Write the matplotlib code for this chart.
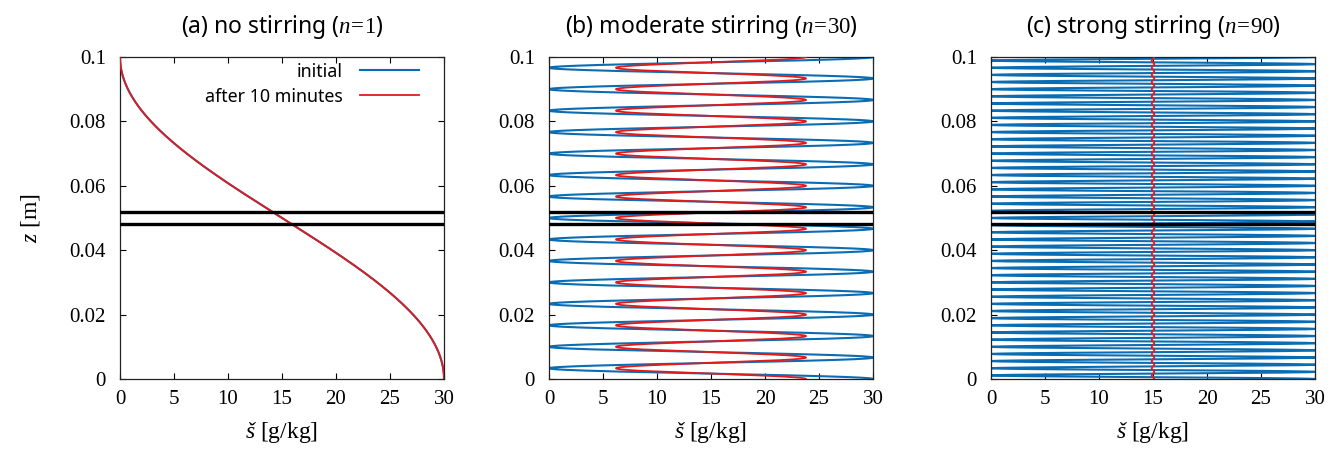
import numpy as np
import matplotlib
matplotlib.use("Agg")
import matplotlib.pyplot as plt

# ---- data ----
panel_titles = ["(a) no stirring", "(b) moderate stirring", "(c) strong stirring"]
mode_numbers = [1, 30, 90]                 # number of half-waves n
mean_salinity = 15.0                        # g/kg
initial_amplitude = [15.0, 15.0, 15.0]      # g/kg
final_amplitude = [15.0, 8.8, 0.12]         # g/kg after 10 minutes
layer_bounds = [0.048, 0.052]               # m, black horizontal lines
tank_depth = 0.1                            # m
x_ticks = [0, 5, 10, 15, 20, 25, 30]
y_ticks = [0, 0.02, 0.04, 0.06, 0.08, 0.1]
y_tick_labels = ["0", "0.02", "0.04", "0.06", "0.08", "0.1"]
legend_labels = ["initial", "after 10 minutes"]

BLUE = "#0a6db3"
RED = "#e31a1c"

plt.rcParams["mathtext.fontset"] = "custom"
plt.rcParams["mathtext.rm"] = "Liberation Serif"
plt.rcParams["mathtext.it"] = "Liberation Serif:italic"
plt.rcParams["mathtext.bf"] = "Liberation Serif:bold"
SERIF = ["Liberation Serif", "DejaVu Serif"]
SANS = ["Noto Sans", "DejaVu Sans"]

W, H = 1342, 450
fig = plt.figure(figsize=(W / 100, H / 100), dpi=100)
lefts = [120, 549, 991]
ax_w, ax_top, ax_bot = 324, 57, 379

z = np.linspace(0, tank_depth, 6000)

for i, left in enumerate(lefts):
    ax = fig.add_axes([left / W, 1 - ax_bot / H, ax_w / W, (ax_bot - ax_top) / H])
    n = mode_numbers[i]
    phase = np.cos(n * np.pi * z / tank_depth)
    s_init = mean_salinity + initial_amplitude[i] * phase
    s_final = mean_salinity + final_amplitude[i] * phase
    ax.plot(s_init, z, color=BLUE, lw=1.5, label=legend_labels[0], zorder=2)
    ax.plot(s_final, z, color=RED, lw=1.3, label=legend_labels[1], zorder=3)
    for zb in layer_bounds:
        ax.axhline(zb, color="black", lw=2.4, zorder=4)
    ax.set_xlim(0, 30)
    ax.set_ylim(0, tank_depth)
    ax.set_xticks(x_ticks)
    ax.set_xticklabels([str(t) for t in x_ticks], fontfamily=SERIF, fontsize=15)
    ax.set_yticks(y_ticks)
    ax.set_yticklabels(y_tick_labels, fontfamily=SERIF, fontsize=15)
    ax.tick_params(direction="in", top=True, right=True, length=4, width=0.8)
    ax.tick_params(axis="x", pad=8)
    ax.tick_params(axis="y", pad=10)
    for sp in ax.spines.values():
        sp.set_linewidth(0.9)
        sp.set_color("#222222")
    ax.set_title(panel_titles[i] + r" ($n\!=\!%d$)" % n, fontfamily=SANS,
                 fontsize=16.5, pad=17)
    ax.set_xlabel(r"$š$ [g/kg]", fontfamily=SERIF, fontsize=17, labelpad=8)
    if i == 0:
        ax.set_ylabel(r"$z$ [m]", fontfamily=SERIF, fontsize=17, labelpad=20)
        ax.legend(loc="upper right", bbox_to_anchor=(0.945, 1.005),
                  frameon=False, markerfirst=False,
                  prop={"family": SANS, "size": 12.8}, handlelength=3.3,
                  handletextpad=1.0, borderaxespad=0.0, labelspacing=0.4)

fig.savefig("out.png", dpi=100)
